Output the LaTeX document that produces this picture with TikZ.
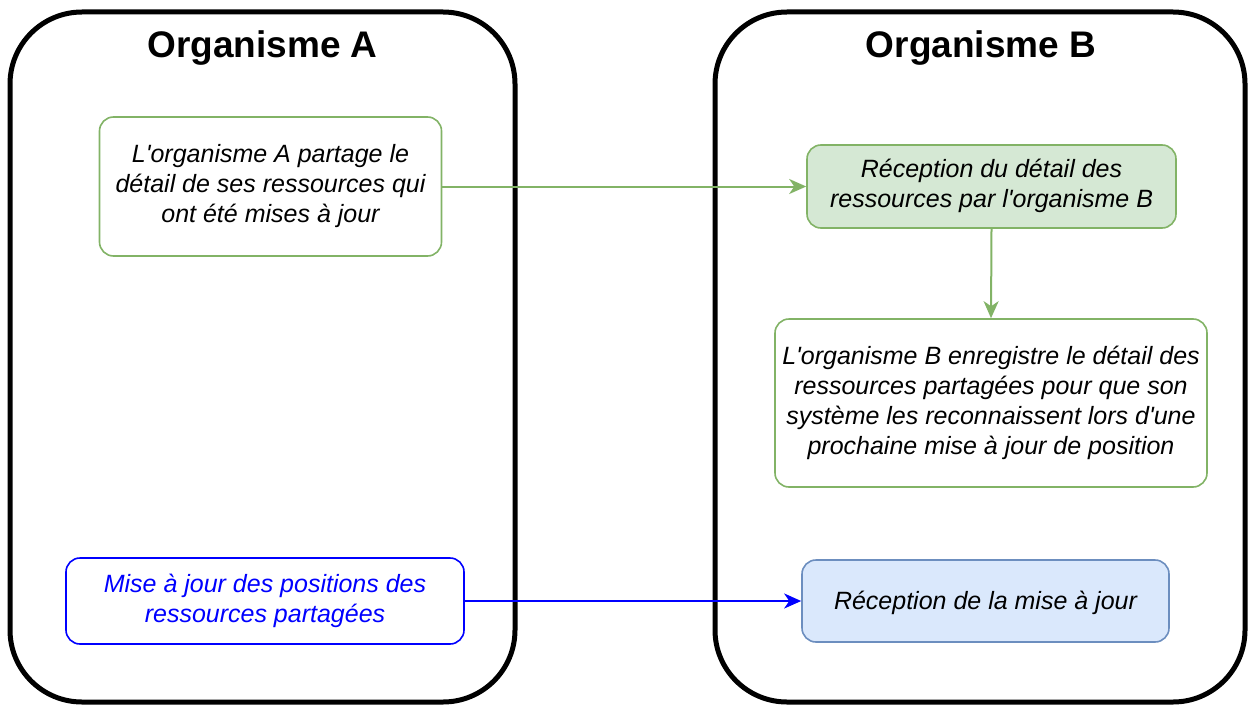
\documentclass[tikz,border=0pt]{standalone}
\usepackage{fontspec}
\setmainfont{Liberation Sans}
\usetikzlibrary{arrows.meta}
\definecolor{gborder}{HTML}{82B366}
\definecolor{gfill}{HTML}{D5E8D4}
\definecolor{bfill}{HTML}{DAE8FC}
\definecolor{bborder}{HTML}{6C8EBF}
\definecolor{pureblue}{HTML}{0000FF}
\newcommand{\ap}{\textquotesingle}
\newcommand{\bstrut}{\rule[-6.3pt]{0pt}{30pt}}
\tikzset{
  container/.style={draw=black, line width=5pt, rounded corners=72pt, inner sep=0pt},
  titletext/.style={font=\bfseries\fontsize{37}{44}\selectfont, inner sep=0pt},
  box/.style={rounded corners=14pt, line width=1.6pt, align=center, inner sep=0pt,
    font=\itshape\fontsize{25}{30}\selectfont,
    execute at begin node=\bstrut, execute at end node=\bstrut},
  greenbox/.style={box, draw=gborder, fill=white},
  greenfill/.style={box, draw=gborder, fill=gfill},
  bluebox/.style={box, draw=pureblue, fill=white, text=pureblue},
  bluefill/.style={box, draw=bborder, fill=bfill},
  tipshape/.style={-{Stealth[length=17pt, width=15pt, inset=5pt]}},
  garrow/.style={tipshape, draw=gborder, line width=2pt},
  barrow/.style={tipshape, draw=pureblue, line width=2pt},
}
\begin{document}
\begin{tikzpicture}[x=1pt, y=-1pt]
\useasboundingbox (0,0) rectangle (1249,706);
% containers
\node[container, minimum width=505pt, minimum height=690pt] (contA) at (262.5,357) {};
\node[container, minimum width=530pt, minimum height=690pt] (contB) at (980,357) {};
\node[titletext] (titleA) at (262.5,48.5) {Organisme A};
\node[titletext] (titleB) at (981,48.5) {Organisme B};
% boxes
\node[greenbox, minimum width=342pt, minimum height=139pt] (a1) at (270.5,186.5)
  {L\ap organisme A partage le\\détail de ses ressources qui\\ont été mises à jour};
\node[greenfill, minimum width=369pt, minimum height=83pt] (b1) at (991.5,186.5)
  {Réception du détail des\\ressources par l\ap organisme B};
\node[greenbox, minimum width=432pt, minimum height=168pt] (b2) at (991,403)
  {L\ap organisme B enregistre le détail des\\ressources partagées pour que son\\système les reconnaissent lors d\ap une\\prochaine mise à jour de position};
\node[bluebox, minimum width=398pt, minimum height=86pt] (a2) at (265,601)
  {Mise à jour des positions des\\ressources partagées};
\node[bluefill, minimum width=367pt, minimum height=82pt] (b3) at (985.5,601)
  {Réception de la mise à jour};
% connectors
\draw[garrow] (a1.east) -- (b1.west);
\draw[garrow] (b1.south) -- (b2.north);
\draw[barrow] (a2.east) -- (b3.west);
\end{tikzpicture}
\end{document}
